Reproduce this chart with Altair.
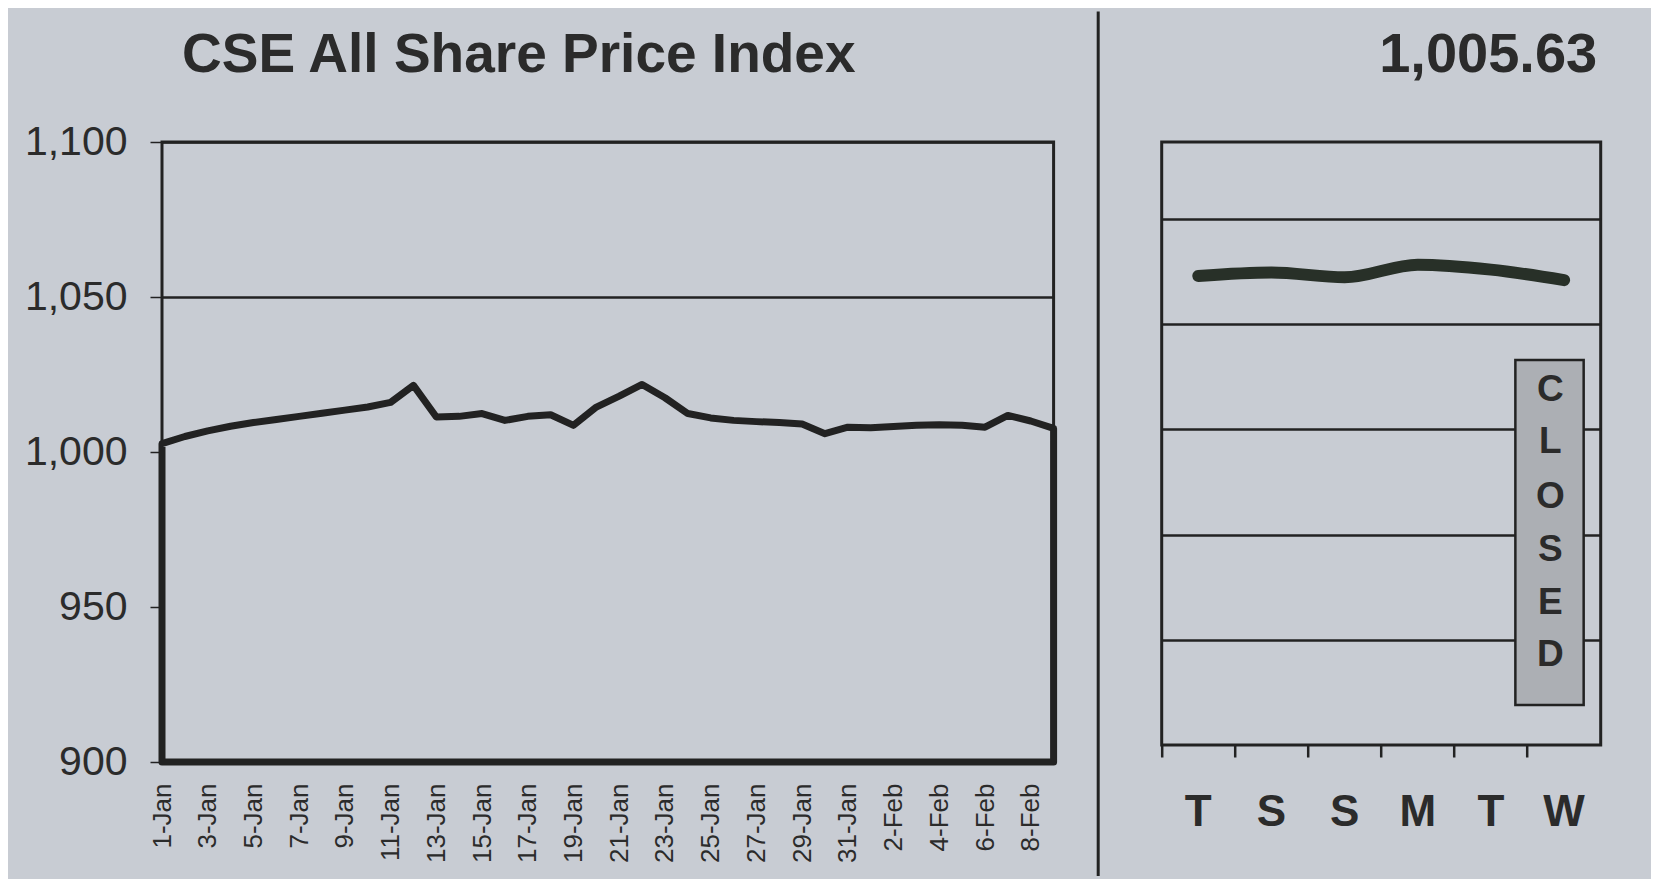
import altair as alt
import pandas as pd

# ---------- data ----------
dates = pd.date_range("2000-01-01", periods=40, freq="D")
day_labels = [f"{d.day}-{d:%b}" for d in dates]
index_values = [
    1002.7, 1005.0, 1006.8, 1008.3, 1009.5, 1010.5, 1011.5, 1012.5, 1013.5, 1014.5,
    1016.0, 1021.5, 1011.3, 1011.5, 1012.4, 1010.2, 1011.5, 1012.0, 1008.6, 1014.5,
    1018.0, 1021.8, 1017.5, 1012.4, 1011.0, 1010.2, 1009.8, 1009.5, 1009.0, 1005.9,
    1008.0, 1007.8, 1008.2, 1008.6, 1008.8, 1008.6, 1008.0, 1011.8, 1010.0, 1007.6,
]
left_ticks = [900, 950, 1000, 1050, 1100]
left_title = ["CSE All Share Price Index"]

week_days = ["T", "S", "S", "M", "T", "W"]
week_order = ["T1", "S1", "S2", "M", "T2", "W"]
week_values = [1005.69, 1005.74, 1005.67, 1005.85, 1005.78, 1005.63]
right_grid = [1000.5, 1002.0, 1003.5, 1005.0, 1006.5]
right_title = ["1,005.63"]
closed_letters = ["C", "L", "O", "S", "E", "D"]
closed_letter_y = [1004.06, 1003.32, 1002.54, 1001.78, 1001.03, 1000.28]
closed_box = {"day": "W", "top": 1004.49, "bottom": 999.57}

BG = "#c8ccd3"
INK = "#222222"
TXT = "#2b2b2b"
FONT = "Liberation Sans"

left_df = pd.DataFrame({"day": day_labels, "value": index_values, "base": 900})
week_df = pd.DataFrame({"key": week_order, "label": week_days, "value": week_values})
letters_df = pd.DataFrame({"key": ["W"] * 6, "letter": closed_letters, "y": closed_letter_y})
box_df = pd.DataFrame([{"key": closed_box["day"], "top": closed_box["top"], "bottom": closed_box["bottom"]}])
ltitle_df = pd.DataFrame({"t": left_title})
rtitle_df = pd.DataFrame({"t": right_title})

# ---------- left panel ----------
x_left = alt.X(
    "day:O",
    sort=day_labels,
    scale=alt.Scale(type="point", padding=0),
    axis=alt.Axis(
        values=day_labels[::2], labelAngle=-90, ticks=False, tickSize=0, domain=False,
        labelFontSize=26, labelColor=TXT, labelPadding=21, labelFont=FONT,
        labelOverlap=False, title=None, grid=False,
    ),
)
y_left = alt.Y(
    "value:Q",
    scale=alt.Scale(domain=[900, 1100], nice=False, zero=False),
    axis=alt.Axis(
        values=left_ticks, format=",d", labelFontSize=41, labelColor=TXT, labelFont=FONT,
        labelPadding=23, tickSize=12, tickColor=INK, tickWidth=1.5, domain=False,
        grid=True, gridColor=INK, gridWidth=2.5, title=None,
    ),
)

area_l = alt.Chart(left_df).mark_area(
    fill=BG, fillOpacity=1, stroke=INK, strokeWidth=7, strokeJoin="round"
).encode(x=x_left, y=y_left, y2="base:Q")

title_l = alt.Chart(ltitle_df).mark_text(
    align="left", baseline="alphabetic", fontSize=55, fontWeight="bold", color=TXT, font=FONT
).encode(x=alt.value(20), y=alt.value(-70), text="t:N")

left = alt.layer(area_l, title_l).properties(width=891.6, height=620)

# ---------- right panel ----------
rscale_x = alt.Scale(domain=week_order, paddingInner=0, paddingOuter=0)
x_right = alt.X(
    "key:N",
    sort=week_order,
    scale=rscale_x,
    axis=alt.Axis(
        labelExpr="substring(datum.value, 0, 1)", bandPosition=0,
        tickSize=12, tickColor=INK, tickWidth=2.5, domain=False, labelAngle=0,
        labelFontSize=44, labelFontWeight="bold", labelColor=TXT, labelFont=FONT,
        labelBaseline="alphabetic", labelPadding=68, title=None, grid=False,
    ),
)
y_scale_r = alt.Scale(domain=[999.0, 1007.6], nice=False, zero=False)
y_right = alt.Y(
    "value:Q",
    scale=y_scale_r,
    axis=alt.Axis(
        values=right_grid, labels=False, ticks=False, domain=False, grid=True,
        gridColor=INK, gridWidth=2.5, title=None,
    ),
)

line_r = alt.Chart(week_df).mark_line(
    color="#283028", strokeWidth=12, strokeCap="round", interpolate="monotone"
).encode(x=x_right, y=y_right)

box_r = alt.Chart(box_df).mark_rect(
    fill="#acafb4", stroke=INK, strokeWidth=2.5, width=68.3, xOffset=-14.6
).encode(
    x=alt.X("key:N", sort=week_order, scale=rscale_x),
    y=alt.Y("top:Q", scale=y_scale_r),
    y2="bottom:Q",
)

letters_r = alt.Chart(letters_df).mark_text(
    fontSize=37, fontWeight="bold", color=TXT, font=FONT, baseline="middle", dx=-13.7
).encode(
    x=alt.X("key:N", sort=week_order, scale=rscale_x),
    y=alt.Y("y:Q", scale=y_scale_r),
    text="letter:N",
)

title_r = alt.Chart(rtitle_df).mark_text(
    align="right", baseline="alphabetic", fontSize=56, fontWeight="bold", color=TXT, font=FONT
).encode(x=alt.value(435.5), y=alt.value(-70), text="t:N")

separator = alt.Chart(rtitle_df).mark_rule(color=INK, strokeWidth=3).encode(
    x=alt.value(-63.5), y=alt.value(-130.4), y2=alt.value(734)
)

right = alt.layer(line_r, box_r, letters_r, title_r, separator).properties(
    width=439, height=603
)

chart = alt.hconcat(left, right, spacing=107.7, bounds="flush").properties(
    padding={"left": 14, "top": 0, "right": 48, "bottom": 0},
    background=BG,
).configure_view(
    stroke=INK, strokeWidth=3, fill=BG
)

chart.save("out.html", embed_options={"renderer": "svg", "actions": False})
